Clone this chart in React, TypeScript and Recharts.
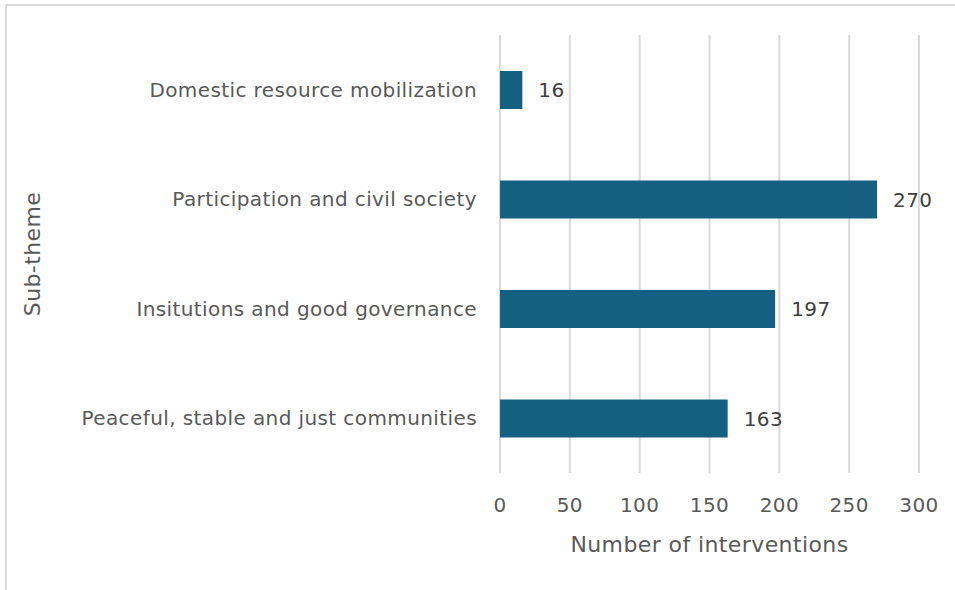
import React from 'react';
import { BarChart, Bar, XAxis, YAxis, CartesianGrid, LabelList } from 'recharts';

const categories = [
  'Domestic resource mobilization',
  'Participation and civil society',
  'Insitutions and good governance',
  'Peaceful, stable and just communities',
];
const interventions = [16, 270, 197, 163];
const xTicks = [0, 50, 100, 150, 200, 250, 300];

const data = categories.map((name, i) => ({ name, value: interventions[i] }));

const FONT = '"DejaVu Sans", "Noto Sans", sans-serif';

export default function App() {
  return (
    <div style={{ position: 'absolute', left: 0, top: 0, width: 955, height: 590, background: '#fff' }}>
      <div
        style={{
          position: 'absolute',
          left: 5,
          top: 4,
          width: 955,
          height: 600,
          borderTop: '2px solid #d9d9d9',
          borderLeft: '2px solid #d9d9d9',
          boxSizing: 'border-box',
        }}
      />
      <div style={{ position: 'absolute', left: 0, top: 0 }}>
        <BarChart
          width={955}
          height={590}
          data={data}
          layout="vertical"
          margin={{ top: 35, right: 36, bottom: 0, left: 0 }}
          barSize={38}
        >
          <CartesianGrid horizontal={false} vertical={true} stroke="#d9d9d9" strokeWidth={2} />
          <XAxis
            type="number"
            domain={[0, 300]}
            ticks={xTicks}
            axisLine={false}
            tickLine={false}
            tickMargin={19}
            height={117}
            tick={{ fill: '#595959', fontSize: 20, fontFamily: FONT, letterSpacing: 0.4 }}
            label={{
              value: 'Number of interventions',
              position: 'insideBottom',
              offset: 38,
              fill: '#595959',
              fontSize: 22,
              fontFamily: FONT,
              letterSpacing: 0.4,
            }}
          />
          <YAxis
            type="category"
            dataKey="name"
            width={500}
            axisLine={false}
            tickLine={false}
            tickMargin={17}
            tick={{ fill: '#595959', fontSize: 20, fontFamily: FONT, letterSpacing: 0.4 }}
            label={{
              value: 'Sub-theme',
              angle: -90,
              position: 'insideLeft',
              offset: 32,
              fill: '#595959',
              fontSize: 22,
              fontFamily: FONT,
              letterSpacing: 0.4,
              style: { textAnchor: 'middle' },
            }}
          />
          <Bar dataKey="value" fill="#156082" isAnimationActive={false}>
            <LabelList
              dataKey="value"
              position="right"
              offset={16}
              fill="#404040"
              fontSize={20}
              fontFamily={FONT}
              letterSpacing={0.4}
            />
          </Bar>
        </BarChart>
      </div>
    </div>
  );
}
